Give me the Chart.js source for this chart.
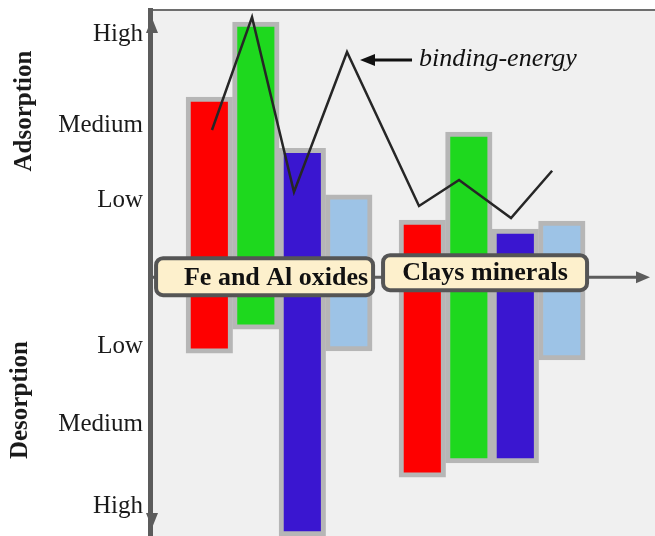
<!DOCTYPE html>
<html>
<head>
<meta charset="utf-8">
<title>Adsorption / desorption</title>
<script src="https://cdn.jsdelivr.net/npm/chart.js@4.4.0/dist/chart.umd.min.js"></script>
<style>
  html, body { margin: 0; padding: 0; background: #fff; }
  #wrap { width: 655px; height: 536px; position: relative; }
</style>
</head>
<body>
<div id="wrap"><canvas id="chart"></canvas></div>
<script>
// values, in "level" units (0 = horizontal axis, up = adsorption)
const groups = ['Fe and Al oxides', 'Clays minerals'];
const groupX = [1, 2];

const redBars = [[-0.95, 2.25], [-2.5, 0.715]];
const greenBars = [[-0.65, 3.19], [-2.32, 1.815]];
const blueBars = [[-3.235, 1.61], [-2.32, 0.6]];
const lightBlueBars = [[-0.92, 1.03], [-1.035, 0.7]];

// binding-energy line
const energyX = [0.685, 0.873, 1.07, 1.319, 1.657, 1.845, 2.089, 2.282];
const energyY = [1.84, 3.25, 1.065, 2.815, 0.89, 1.215, 0.74, 1.33];

const tickValues = [-2.86, -1.84, -0.87, 0.965, 1.9, 3.03];
const tickLabels = ['High', 'Medium', 'Low', 'Low', 'Medium', 'High'];

const SERIF = "'Liberation Serif', 'Times New Roman', serif";
const AXIS_GRAY = '#5c5c5c';
const BAR_EDGE = '#b6b6b6';

function triangle(ctx, pts, color) {
    ctx.beginPath();
    ctx.moveTo(pts[0], pts[1]);
    ctx.lineTo(pts[2], pts[3]);
    ctx.lineTo(pts[4], pts[5]);
    ctx.closePath();
    ctx.fillStyle = color;
    ctx.fill();
}

// label boxes sit on the horizontal axis; offsets are relative to the group centre
const boxLayout = [
    { left: -123, right: 94, top: -19, bottom: 18, textDx: -3, textDy: 1 },
    { left: -109, right: 95, top: -22, bottom: 13, textDx: -7, textDy: -4 }
];

const decorations = {
    id: 'decorations',
    beforeDraw(chart) {
        const { ctx, chartArea: a } = chart;
        ctx.save();
        ctx.fillStyle = '#f0f0f0';
        ctx.fillRect(a.left, a.top, a.right - a.left, a.bottom - a.top);
        ctx.strokeStyle = '#6e6e6e';
        ctx.lineWidth = 2;
        ctx.beginPath();
        ctx.moveTo(a.left, a.top);
        ctx.lineTo(a.right, a.top);
        ctx.stroke();
        ctx.restore();
    },
    afterDatasetsDraw(chart) {
        const { ctx, chartArea: a, scales } = chart;
        const xs = scales.x, ys = scales.y;
        const y0 = ys.getPixelForValue(0);
        ctx.save();

        // horizontal axis with arrow
        ctx.strokeStyle = AXIS_GRAY;
        ctx.lineWidth = 3;
        ctx.beginPath();
        ctx.moveTo(a.left, y0);
        ctx.lineTo(a.right - 14, y0);
        ctx.stroke();
        triangle(ctx, [a.right - 5, y0, a.right - 19, y0 - 6, a.right - 19, y0 + 6], AXIS_GRAY);

        // arrow heads on the vertical axis
        const ax = a.left + 2;
        triangle(ctx, [ax, a.top + 8, ax - 6, a.top + 23, ax + 6, a.top + 23], AXIS_GRAY);
        triangle(ctx, [ax, a.bottom - 8, ax - 6, a.bottom - 23, ax + 6, a.bottom - 23], AXIS_GRAY);

        // group label boxes
        ctx.font = 'bold 26px ' + SERIF;
        ctx.textAlign = 'center';
        ctx.textBaseline = 'middle';
        groups.forEach((name, i) => {
            const cx = xs.getPixelForValue(groupX[i]);
            const b = boxLayout[i];
            ctx.beginPath();
            ctx.roundRect(cx + b.left, y0 + b.top, b.right - b.left, b.bottom - b.top, 7);
            ctx.fillStyle = '#fdf0cc';
            ctx.fill();
            ctx.lineWidth = 4;
            ctx.strokeStyle = '#555555';
            ctx.stroke();
            ctx.fillStyle = '#111111';
            ctx.fillText(name, cx + b.textDx, y0 + b.textDy);
        });

        // binding-energy annotation, pointing at the 4th point of the line
        const peak = chart.getDatasetMeta(4).data[3];
        const ay = peak.y + 8;
        ctx.strokeStyle = '#111111';
        ctx.lineWidth = 3;
        ctx.beginPath();
        ctx.moveTo(peak.x + 65, ay);
        ctx.lineTo(peak.x + 24, ay);
        ctx.stroke();
        triangle(ctx, [peak.x + 13, ay, peak.x + 28, ay - 6, peak.x + 28, ay + 6], '#111111');
        ctx.font = 'italic 26px ' + SERIF;
        ctx.textAlign = 'left';
        ctx.fillText('binding-energy', peak.x + 72, ay - 1);

        ctx.restore();
    },
    afterDraw(chart) {
        const { ctx } = chart;
        ctx.save();
        ctx.font = 'bold 25px ' + SERIF;
        ctx.fillStyle = '#1a1a1a';
        ctx.textAlign = 'center';
        ctx.textBaseline = 'middle';
        [['Adsorption', 25, 111], ['Desorption', 21, 400]].forEach(([t, x, y]) => {
            ctx.save();
            ctx.translate(x, y);
            ctx.rotate(-Math.PI / 2);
            ctx.fillText(t, 0, 0);
            ctx.restore();
        });
        ctx.restore();
    }
};

function barSet(label, values, color) {
    return {
        type: 'bar',
        label: label,
        data: values.map((v, i) => ({ x: groupX[i], y: v })),
        backgroundColor: color,
        borderColor: BAR_EDGE,
        borderWidth: 5,
        borderSkipped: false,
        barThickness: 46.5,
        order: 1
    };
}

new Chart(document.getElementById('chart'), {
    type: 'bar',
    data: {
        datasets: [
            barSet('red', redBars, '#fe0000'),
            barSet('green', greenBars, '#1ed81e'),
            barSet('blue', blueBars, '#3a16d0'),
            barSet('light blue', lightBlueBars, '#9dc3e6'),
            {
                type: 'line',
                label: 'binding-energy',
                data: energyX.map((x, i) => ({ x: x, y: energyY[i] })),
                borderColor: '#262626',
                borderWidth: 2.5,
                pointRadius: 0,
                tension: 0,
                order: 0
            }
        ]
    },
    options: {
        responsive: true,
        maintainAspectRatio: false,
        animation: false,
        layout: { padding: { top: 10, right: 0, bottom: 0, left: 0 } },
        plugins: {
            legend: { display: false },
            tooltip: { enabled: false }
        },
        scales: {
            x: {
                type: 'linear',
                min: 0.394,
                max: 2.765,
                offset: false,
                display: false,
                grid: { offset: false }
            },
            y: {
                min: -3.235,
                max: 3.34,
                grid: { display: false, drawTicks: false },
                border: { display: true, color: AXIS_GRAY, width: 5 },
                afterBuildTicks: scale => {
                    scale.ticks = tickValues.map(v => ({ value: v }));
                },
                afterFit: scale => {
                    scale.width = 150;
                    scale.paddingTop = 0;
                    scale.paddingBottom = 0;
                },
                ticks: {
                    padding: 7,
                    color: '#1a1a1a',
                    font: { family: SERIF, size: 25 },
                    callback: (value, index) => tickLabels[index]
                }
            }
        }
    },
    plugins: [decorations]
});
</script>
</body>
</html>
